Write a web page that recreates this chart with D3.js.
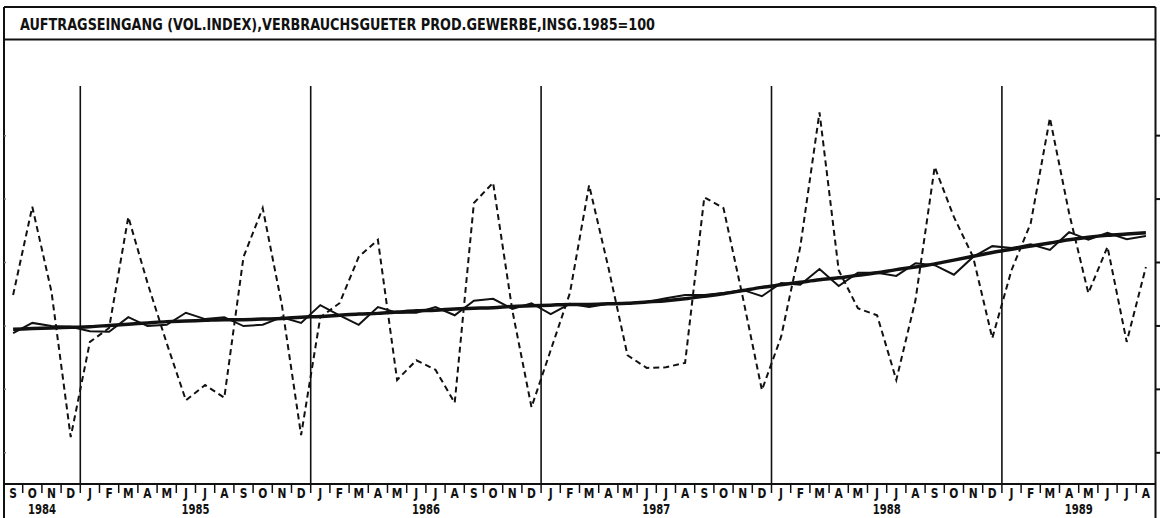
<!DOCTYPE html>
<html><head><meta charset="utf-8">
<script src="https://cdn.jsdelivr.net/npm/d3@7"></script>
<style>body{margin:0;background:#fff}svg{display:block}</style>
</head><body>
<svg id="c" width="1160" height="518"></svg>
<script>
const title = "AUFTRAGSEINGANG (VOL.INDEX),VERBRAUCHSGUETER PROD.GEWERBE,INSG.1985=100";
const monthLetters = ["S","O","N","D",
 "J","F","M","A","M","J","J","A","S","O","N","D",
 "J","F","M","A","M","J","J","A","S","O","N","D",
 "J","F","M","A","M","J","J","A","S","O","N","D",
 "J","F","M","A","M","J","J","A","S","O","N","D",
 "J","F","M","A","M","J","J","A"];
const years = ["1984","1985","1986","1987","1988","1989"];
const yearStart = [0,4,16,28,40,52];
const yearEnd = [4,16,28,40,52,60];
// raw index (dashed)
const original = [104.8,118.7,105.3,82.4,
 97.4,99.6,117.1,106.7,97.2,88.2,90.6,88.6,110.8,118.5,103.2,82.7,
 101.3,103.5,110.8,113.5,91.4,94.5,93.0,87.8,119.3,122.5,102.4,87.1,
 96.1,105.1,122.1,109.2,95.3,93.3,93.4,94.1,120.2,118.5,104.5,89.8,
 98.2,112.4,133.6,108.7,102.7,101.6,91.4,104.0,125.0,117.1,110.8,98.0,
 108.7,116.1,132.7,117.7,105.1,112.4,97.4,109.2];
// seasonally adjusted (thin solid)
const adjusted = [98.8,100.4,99.9,99.8,
 99.1,99.0,101.3,99.9,100.1,102.0,101.0,101.3,99.9,100.1,101.3,100.4,
 103.2,101.6,100.1,102.9,102.0,102.0,102.9,101.6,103.9,104.2,102.6,103.5,
 101.8,103.4,102.9,103.4,103.5,103.7,104.3,104.8,104.8,105.1,105.6,104.6,
 106.7,106.4,108.9,106.2,108.3,108.3,107.8,109.8,109.5,108.0,110.8,112.5,
 112.2,112.8,111.9,114.7,113.5,114.6,113.6,114.1];
// trend (thick solid)
const trend = [99.4,99.5,99.6,99.7,
 99.8,100.0,100.2,100.4,100.6,100.7,100.8,100.9,100.9,101.0,101.1,101.3,
 101.4,101.6,101.8,101.9,102.1,102.3,102.4,102.6,102.7,102.8,103.0,103.1,
 103.2,103.3,103.3,103.4,103.5,103.7,103.9,104.2,104.6,105.0,105.5,106.0,
 106.4,106.8,107.2,107.5,107.9,108.3,108.8,109.2,109.7,110.3,110.9,111.5,
 112.0,112.5,113.0,113.5,113.9,114.2,114.4,114.6];
const yTicks = [80,90,100,110,120,130];

const svg = d3.select("#c");
const ink = "#111";
const L = 4, R = 1155.5, T = 7, TB = 39.5, AX = 484;
const idx = d3.range(monthLetters.length);
const x = d3.scaleBand().domain(idx).range([3.5, 1155.5]).padding(0);
const xc = i => x(i) + x.bandwidth()/2;
const y = d3.scaleLinear().domain([75,145]).range([AX, 40]);
const font = "'DejaVu Sans Condensed','DejaVu Sans',sans-serif";

// frame
svg.append("rect").attr("x",0).attr("y",0).attr("width",1160).attr("height",518).attr("fill","#fff");
const fr = svg.append("g").attr("stroke",ink).attr("stroke-width",2).attr("fill","none");
fr.append("line").attr("x1",L).attr("x2",R).attr("y1",T).attr("y2",T);
fr.append("line").attr("x1",L).attr("x2",R).attr("y1",TB).attr("y2",TB);
fr.append("line").attr("x1",L).attr("x2",L).attr("y1",T).attr("y2",518);
fr.append("line").attr("x1",R).attr("x2",R).attr("y1",T).attr("y2",518);
fr.append("line").attr("x1",L).attr("x2",R).attr("y1",AX).attr("y2",AX);

// title
svg.append("text").attr("x",20).attr("y",30)
 .attr("font-family",font)
 .attr("font-weight","bold").attr("font-size",16).attr("fill",ink)
 .attr("textLength",635).attr("lengthAdjust","spacingAndGlyphs").text(title);

// right-side ticks (outward)
const yAxis = d3.axisRight(y).tickValues(yTicks).tickSize(5).tickFormat("");
const ga = svg.append("g").attr("transform",`translate(${R},0)`).call(yAxis);
ga.select(".domain").remove();
ga.selectAll("line").attr("stroke",ink).attr("stroke-width",2);
// left-side faint ticks
const gl = svg.append("g").attr("transform",`translate(${L},0)`)
 .call(d3.axisRight(y).tickValues(yTicks).tickSize(2).tickFormat(""));
gl.select(".domain").remove();
gl.selectAll("line").attr("stroke","#777").attr("stroke-width",1.5);

// year separator lines in plot
svg.append("g").selectAll("line").data(yearStart.slice(1)).join("line")
 .attr("x1",d=>x(d)).attr("x2",d=>x(d)).attr("y1",86).attr("y2",AX)
 .attr("stroke",ink).attr("stroke-width",1.6);

// month cells separators
svg.append("g").selectAll("line").data(idx.slice(1)).join("line")
 .attr("x1",d=>x(d)).attr("x2",d=>x(d)).attr("y1",AX).attr("y2",493)
 .attr("stroke",ink).attr("stroke-width",1.5);

// month letters
svg.append("g").selectAll("text").data(idx).join("text")
 .attr("transform",d=>`translate(${xc(d)},497.5) scale(0.82,1)`)
 .attr("text-anchor","middle")
 .attr("font-family",font).attr("font-weight","bold")
 .attr("font-size",14.5).attr("fill",ink)
 .text(d=>monthLetters[d]);

// year labels
svg.append("g").selectAll("text").data(years).join("text")
 .attr("x",(d,i)=>(x(yearStart[i]) + (yearEnd[i]===60? 1155.5 : x(yearEnd[i])))/2)
 .attr("y",514).attr("text-anchor","middle")
 .attr("font-family",font).attr("font-weight","bold")
 .attr("font-size",14).attr("fill",ink)
 .attr("textLength",28).attr("lengthAdjust","spacingAndGlyphs")
 .text(d=>d);

// series
const line = arr => d3.line().x((d,i)=>xc(i)).y(d=>y(d))(arr);
svg.append("path").attr("d",line(original)).attr("fill","none")
 .attr("stroke",ink).attr("stroke-width",2).attr("stroke-dasharray","6,4");
svg.append("path").attr("d",line(adjusted)).attr("fill","none")
 .attr("stroke",ink).attr("stroke-width",2).attr("stroke-linejoin","miter");
svg.append("path").attr("d",d3.line().x((d,i)=>xc(i)).y(d=>y(d)).curve(d3.curveMonotoneX)(trend))
 .attr("fill","none").attr("stroke",ink).attr("stroke-width",3.5);
</script>
</body></html>
